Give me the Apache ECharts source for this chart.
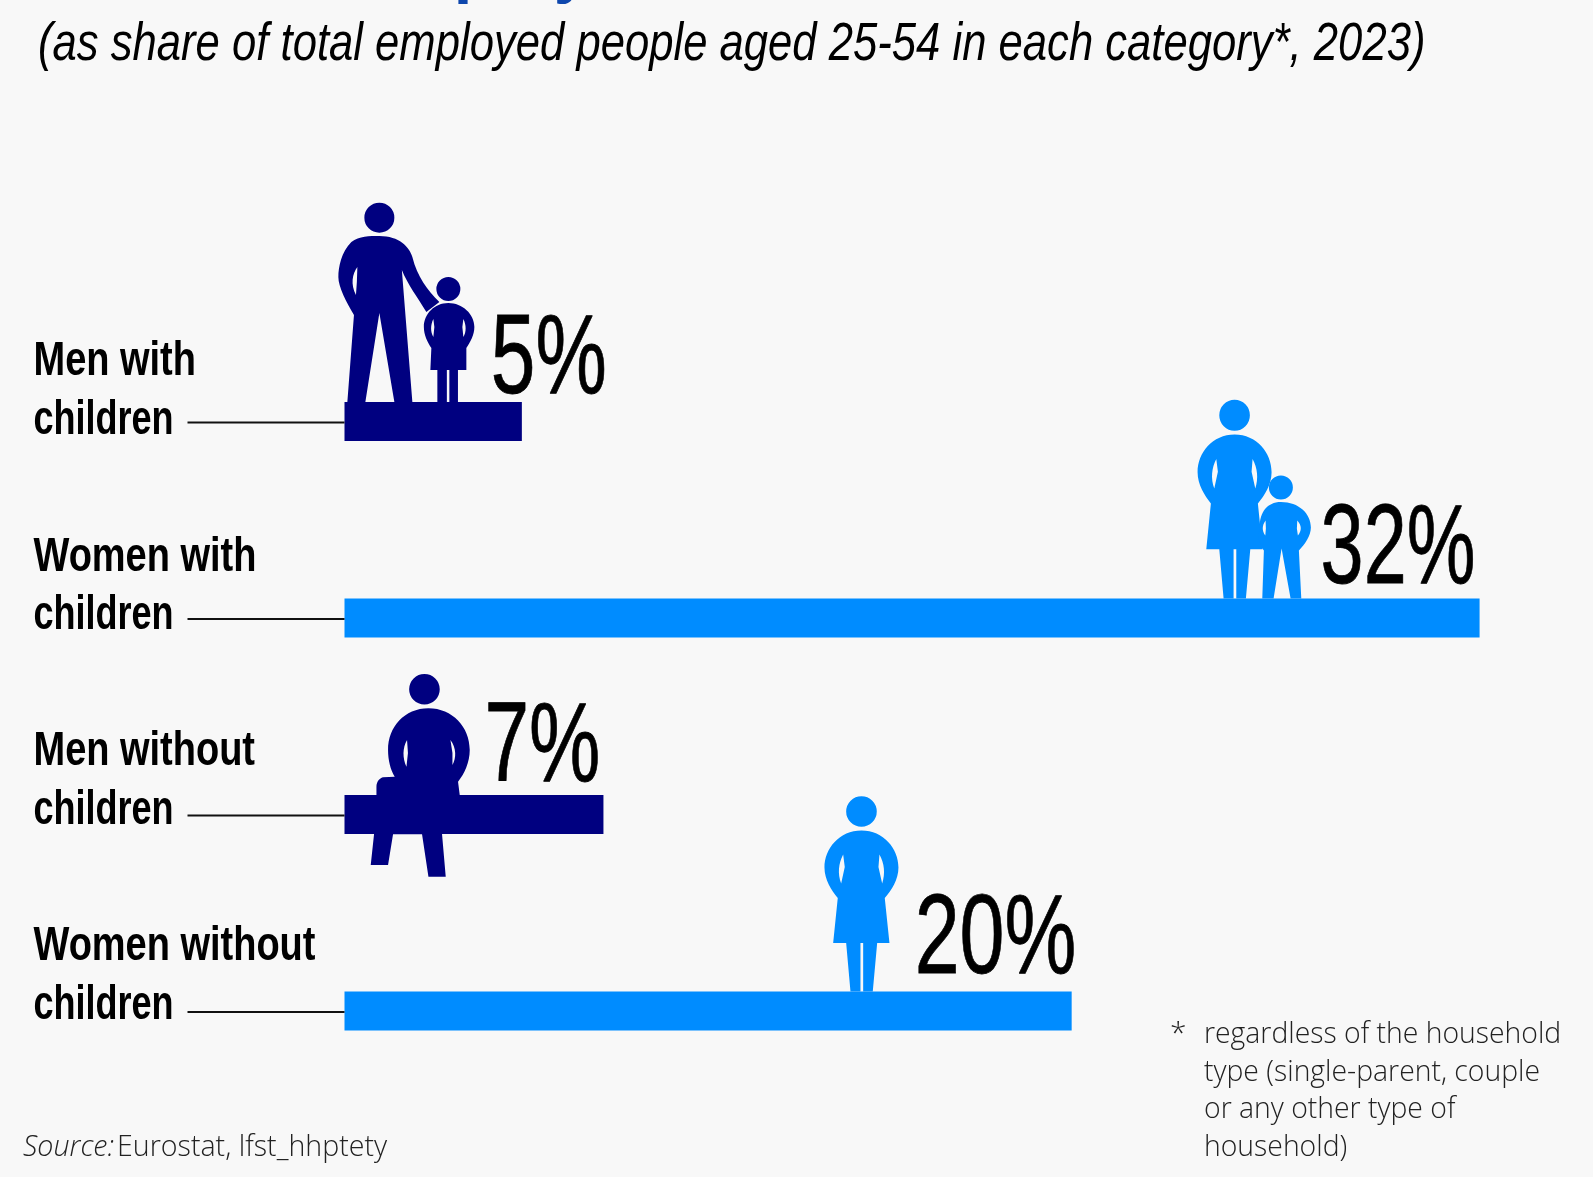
<!DOCTYPE html>
<html><head><meta charset="utf-8">
<style>html,body{margin:0;padding:0;background:#f8f8f8}#c{width:1593px;height:1177px}</style>
<script src="https://cdn.jsdelivr.net/npm/echarts@6/dist/echarts.min.js"></script>
</head><body><div id="c"></div>
<script>
const categories = ['Men with\nchildren','Women with\nchildren','Men without\nchildren','Women without\nchildren'];
const shareValues = [5, 32, 7.3, 20.5];
const shareLabels = ['5%','32%','7%','20%'];

const NAVY='#000080', BLUE='#008cff', INK='#000', BG='#f8f8f8', TITLE='#0e47ad';
const SANS="'Liberation Sans',sans-serif";
const LIGHT="'Open Sans',sans-serif";

function head(x,y,r){return `M${x+r},${y}A${r},${r} 0 1 1 ${x-r},${y}A${r},${r} 0 1 1 ${x+r},${y}Z`;}
const WOMAN=head(0,-180,15.3)+'M0,-161C22,-161 37,-143 37,-124C37,-112 30,-101 23.3,-93.4L28,-48.4L15.7,-48.4L11.3,0L1.7,0L1.7,-48.4L-1,-48.4L-1,0L-11,0L-15.3,-48.4L-28.3,-48.4L-23.7,-93.4C-30,-101 -37,-112 -37,-124C-37,-143 -22,-161 0,-161Z'
 +'M-18.3,-137C-23,-128 -24,-118 -20.3,-108L-16.7,-124.4Z'
 +'M18,-137L17,-124.4L20.7,-108C24,-118 23,-128 18,-137Z';
const MAN=head(0,-184.3,15)+'M0,-166C20,-166 30,-155 33,-145C38,-125 48,-112 60,-100L47,-90C38,-105 28,-118 22.5,-132L33,0L15,0L0,-89L-14,0L-32,0L-25.4,-87C-33,-100 -41,-115 -41,-125C-41,-135 -38,-150 -28,-160C-20,-166 -10,-166 0,-166Z'
 +'M-22,-135C-27,-128 -29,-118 -23.4,-107L-22.5,-120Z';
const GIRL=head(0,-113,12)+'M0,-99C14,-99 26,-88 26,-75C26,-67 22,-60 18,-54L18,-32L9.6,-32L9.6,0L1,0L1,-32L-1.5,-32L-1.5,0L-11,0L-11,-32L-18,-32L-17,-54C-21,-60 -24.5,-67 -24.5,-75C-24.5,-88 -14,-99 0,-99Z'
 +'M-15,-83C-18,-77 -18,-70 -15,-65L-14,-75Z'
 +'M15,-83L14,-75L15,-65C18,-70 18,-77 15,-83Z';
const BOY=head(0,-111,12)+'M0,-96.6C18,-96.6 30,-85 30,-71C30,-63 24,-54 18,-48L20.4,0L9.7,0L0.7,-50L-7.3,0L-18.6,0L-17,-48C-24,-56 -22,-64 -21.3,-71.6C-21,-86 -14,-96.6 0,-96.6Z'
 +'M-15.3,-78C-19,-73 -19,-68 -15.6,-63L-15,-70Z'
 +'M16.4,-78L16,-70L17,-63C21,-68 21,-73 16.4,-78Z';
const SEATED=head(-4,-105.7,15.3)+'M0,-86.7C24,-86.7 41.3,-68 41.3,-45C41.3,-33 36,-21 29.6,-13.3L31.3,0L13.6,39.3L17.3,81.7L0,81.7L-6.4,39.3L-35.4,39.3L-40.4,70L-57.7,70L-54.4,39.3L-52,0L-52,-8.3C-52,-14 -48,-17 -45.4,-17.7L-33.7,-18.3C-38,-25 -40.4,-35 -40.4,-45C-40.4,-68 -24,-86.7 0,-86.7Z'
 +'M-21.4,-55C-26,-47 -26,-37 -22,-28.3L-20.5,-42Z'
 +'M22,-55L24,-42L24,-30C28,-37 28,-47 22,-55Z';
// [path, x offset from the bar end, vertical stretch]
const figures=[[[MAN,-142.5,1],[GIRL,-73.5,1]],[[WOMAN,-245,1.018],[BOY,-198.7,1]],[[SEATED,-175,1]],[[WOMAN,-210.2,1]]];
const labelOffset=[[-31,16],[-159,10],[-119,11],[-157,7]];
const labelScale=[0.71,0.685,0.71,0.715];
const nameOffset=[-30.5,-31.5,-33.5,-35];
const nameLineGap=58.5, nameScales=[0.775,0.735];
const rowColors=[NAVY,BLUE,NAVY,BLUE];

const chart=echarts.init(document.getElementById('c'),null,{renderer:'canvas'});
const BAR_H=39;
chart.setOption({
  backgroundColor:BG,animation:false,
  grid:{left:344.5,top:323.25,width:1241.5,height:786},
  xAxis:{type:'value',min:0,max:35,show:false},
  yAxis:{type:'category',inverse:true,data:categories,axisLine:{show:false},axisTick:{show:false},axisLabel:{show:false}},
  series:[
    {type:'bar',data:shareValues.map((v,i)=>({value:v,itemStyle:{color:rowColors[i]}})),barWidth:BAR_H,z:2},
    {type:'custom',coordinateSystem:'cartesian2d',z:3,data:shareValues.map((v,i)=>[v,i]),
     renderItem(params,api){
       const i=params.dataIndex, p=api.coord([api.value(0),api.value(1)]), top=p[1]-BAR_H/2, left=api.coord([0,i])[0];
       const children=figures[i].map(([d,dx,sy])=>{
         const b=echarts.graphic.makePath(d).getBoundingRect();
         return {type:'path',x:p[0]+dx,y:top,shape:{pathData:d,layout:'cover',x:b.x,y:b.y*sy,width:b.width,height:b.height*sy},style:{fill:rowColors[i]}};
       });
       children.push({type:'line',shape:{x1:left-157,y1:p[1]+1,x2:left,y2:p[1]+1},style:{stroke:'#111',lineWidth:2}});
       children.push({type:'text',x:p[0]+labelOffset[i][0],y:top+labelOffset[i][1],scaleX:labelScale[i],
         style:{text:shareLabels[i],fill:INK,stroke:INK,lineWidth:0.8,font:"normal 113px "+SANS,align:'left',verticalAlign:'bottom'}});
       categories[i].split('\n').forEach((line,k)=>{
         children.push({type:'text',x:left-311,y:p[1]+nameOffset[i]+(k-0.5)*nameLineGap,scaleX:nameScales[k],
           style:{text:line,fill:INK,font:"bold 49px "+SANS,align:'left',verticalAlign:'middle'}});
       });
       return {type:'group',children};
     }}
  ],
  graphic:[
    {type:'text',x:49,y:-75,scaleX:0.835,style:{text:'Part-time employment',fill:TITLE,font:"bold 80px "+SANS,verticalAlign:'top'}},
    {type:'text',x:38,y:45,scaleX:0.808,style:{text:'(as share of total employed people aged 25-54 in each category*, 2023)',fill:INK,font:"italic 54px "+SANS,verticalAlign:'middle'}},
    {type:'text',x:23,y:1147,scaleX:0.953,style:{text:'Source:',fill:'#222',font:"italic 300 30px "+LIGHT,verticalAlign:'middle'}},
    {type:'text',x:117,y:1147,scaleX:0.953,style:{text:'Eurostat, lfst_hhptety',fill:'#222',font:"300 30px "+LIGHT,verticalAlign:'middle'}},
    {type:'text',x:1170,y:1034,style:{text:'*',fill:'#222',font:"300 30px "+LIGHT,verticalAlign:'middle'}},
    {type:'text',x:1204,y:1016,scaleX:0.945,style:{text:'regardless of the household\ntype (single-parent, couple\nor any other type of\nhousehold)',fill:'#222',font:"300 30px "+LIGHT,lineHeight:37.5,verticalAlign:'top'}}
  ]
});
</script></body></html>
